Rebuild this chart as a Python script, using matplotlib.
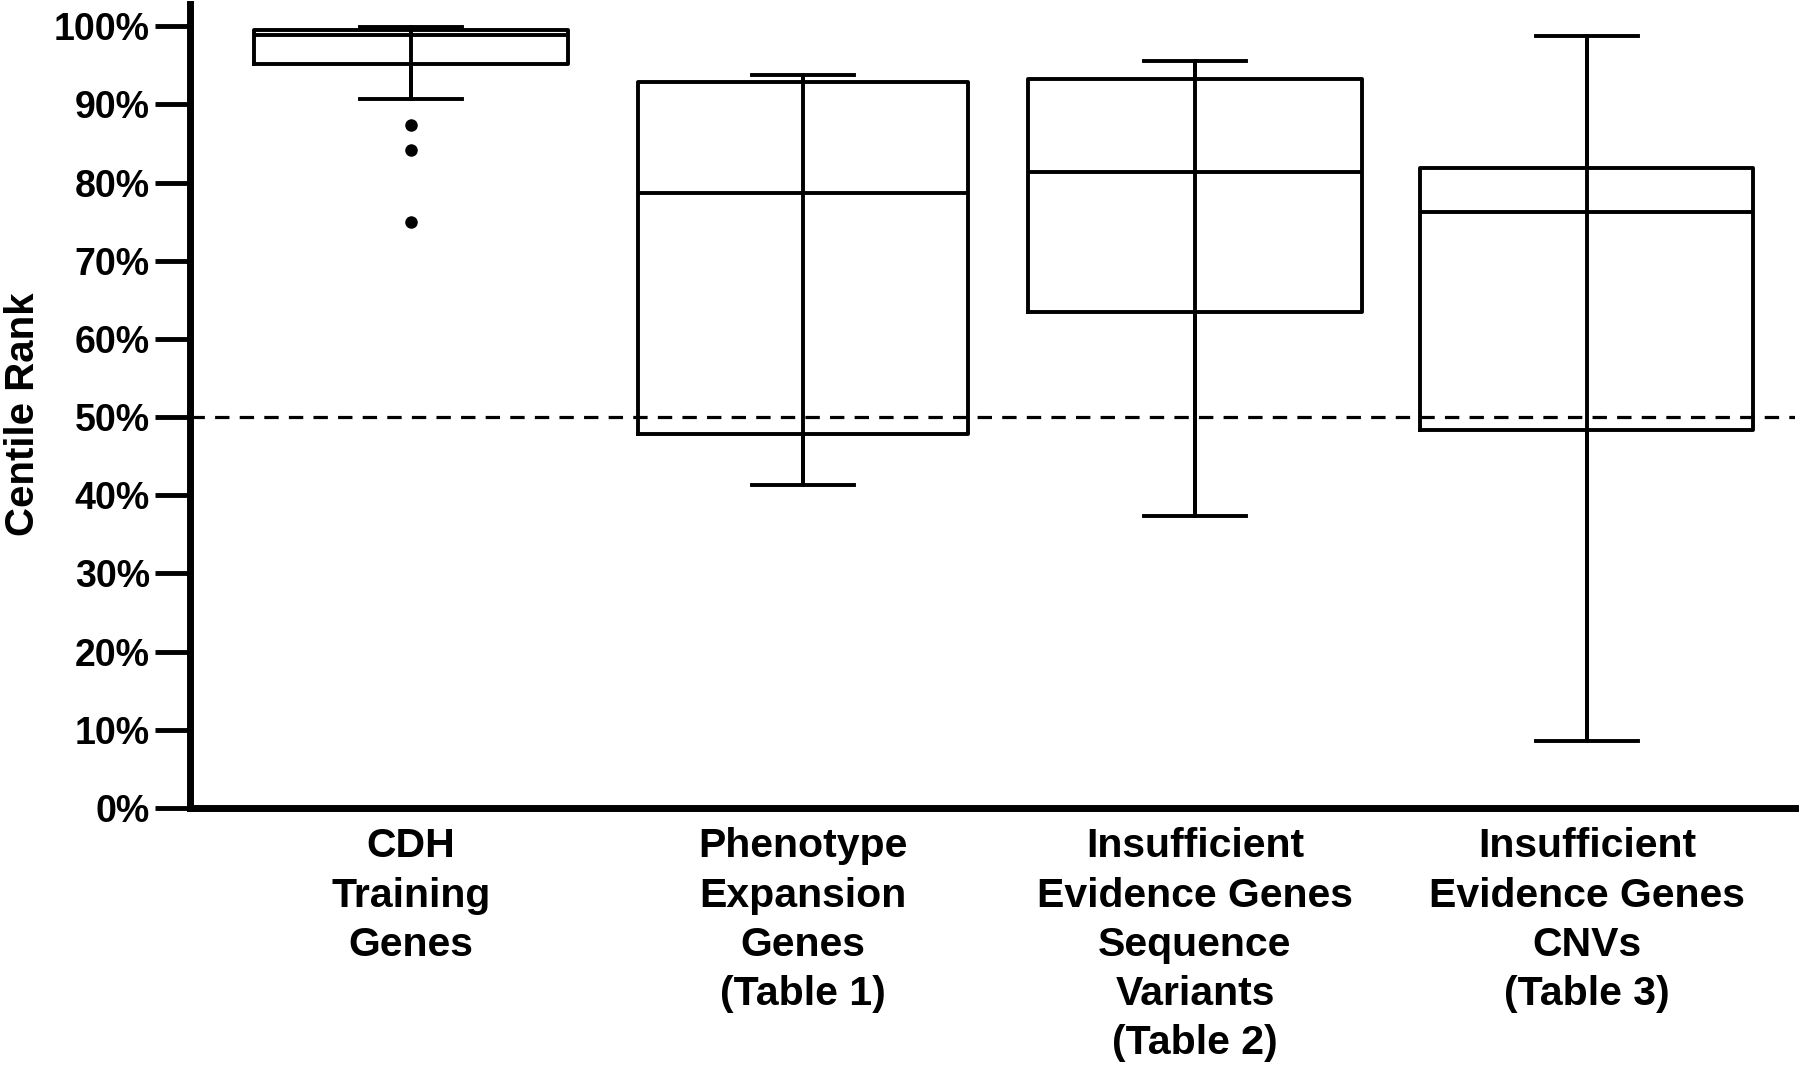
import matplotlib
matplotlib.use("Agg")
import matplotlib.pyplot as plt

plt.rcParams['font.family'] = ['Liberation Sans', 'DejaVu Sans']
plt.rcParams['font.weight'] = 'bold'

# values (centile rank, %)
labels = ['CDH\nTraining\nGenes',
          'Phenotype\nExpansion\nGenes\n(Table 1)',
          'Insufficient\nEvidence Genes\nSequence\nVariants\n(Table 2)',
          'Insufficient\nEvidence Genes\nCNVs\n(Table 3)']
whis_low = [90.7, 41.3, 37.4, 8.6]
q1 = [95.2, 47.8, 63.4, 48.4]
median = [98.9, 78.7, 81.4, 76.2]
q3 = [99.5, 92.9, 93.3, 81.8]
whis_high = [99.9, 93.7, 95.5, 98.8]
outliers = [[87.4, 84.1, 75.0], [], [], []]

yticks = [0, 10, 20, 30, 40, 50, 60, 70, 80, 90, 100]
ref_line = 50

stats = []
for i in range(len(labels)):
    stats.append(dict(whislo=whis_low[i], q1=q1[i], med=median[i], q3=q3[i],
                      whishi=whis_high[i], fliers=outliers[i], label=labels[i]))

fig = plt.figure(figsize=(18, 10.68), dpi=100)
ax = fig.add_axes([0.1056, 0.2434, 0.8914, 0.7526])

positions = list(range(1, len(labels) + 1))
lw = 2.8
ax.bxp(stats, positions=positions, widths=[0.8, 0.84, 0.85, 0.85],
       capwidths=0.26, showfliers=True,
       boxprops=dict(color='black', linewidth=lw),
       medianprops=dict(color='black', linewidth=lw),
       whiskerprops=dict(color='black', linewidth=lw),
       capprops=dict(color='black', linewidth=lw),
       flierprops=dict(marker='o', markerfacecolor='black', markeredgecolor='black',
                       markersize=8))
# whisker line runs straight through the box in the original
ax.vlines(positions, whis_low, whis_high, colors='black', linewidth=lw, zorder=3)

ax.axhline(ref_line, color='black', linewidth=2.3, linestyle=(0, (4.5, 3.2)), zorder=1)

ax.set_xlim(0.436, 4.53)
ax.set_ylim(0, 102.8)
ax.set_yticks(yticks)
ax.set_yticklabels([f'{t}%' for t in yticks], fontsize=27, fontweight='bold')
ax.set_xticks(positions)
ax.set_xticklabels(labels, fontsize=29.5, fontweight='bold', linespacing=1.37,
                   va='top')

ax.tick_params(axis='y', length=25, width=3.5, pad=4)
ax.tick_params(axis='x', length=0, pad=14)

for side in ['top', 'right']:
    ax.spines[side].set_visible(False)
for side in ['left', 'bottom']:
    ax.spines[side].set_linewidth(5)

ax.set_ylabel('Centile Rank', fontsize=29, fontweight='bold')
ax.yaxis.set_label_coords(-0.092, 0.49)

fig.savefig('out.png', dpi=100)
